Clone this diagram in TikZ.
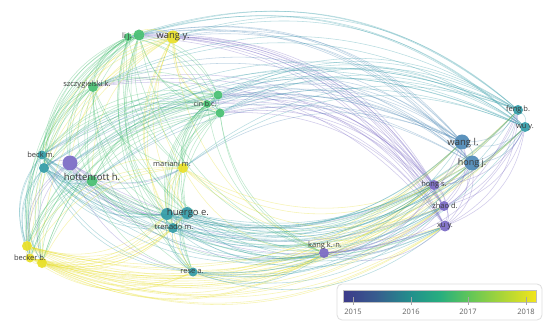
\documentclass[tikz,border=0pt]{standalone}
\usepackage{fontspec}
\setmainfont{Open Sans}
\definecolor{cyel}{HTML}{E8DF22}
\definecolor{cgrn}{HTML}{43BE6E}
\definecolor{cteal}{HTML}{2E9AA6}
\definecolor{cblue}{HTML}{4A87B5}
\definecolor{cpur}{HTML}{7766C4}
\definecolor{labc}{HTML}{3A3A3A}
\definecolor{legc}{HTML}{DDDDDD}
\definecolor{v0}{HTML}{3C3A8A}
\definecolor{v1}{HTML}{375B8E}
\definecolor{v2}{HTML}{22908C}
\definecolor{v3}{HTML}{27AE7F}
\definecolor{v4}{HTML}{5EC55A}
\definecolor{v5}{HTML}{A5D43A}
\definecolor{v6}{HTML}{F3E51B}
\pgfdeclarelayer{back}
\pgfdeclarelayer{edges}
\pgfsetlayers{back,edges,main}
\def\nodelist{lija/128/37/cgrn/4,lijb/139/35/cgrn/5.5,wangy/173/37/cyel/6.5,szcz/93/87/cgrn/5,cina/218/95/cgrn/4.5,cinb/207/104/cgrn/4,cinc/220/113/cgrn/4.5,becka/42/155/cteal/4.5,beckb/44/168/cteal/5,hottp/70/163/cpur/7.5,hottg/92/181/cgrn/5.5,mariani/183/168/cyel/5,beckera/27/246/cyel/5,beckerb/30/258/cyel/4.5,beckerc/42/263/cyel/5,huergoa/167/214/cteal/6,huergob/187/213/cteal/6,trenado/173/228/cteal/5,rese/193/272/cteal/4.5,kang/324/253/cpur/5,hongs/434/185/cpur/5,zhao/444/206/cpur/5,xuy/445/226/cpur/5.5,wangl/462/142/cblue/7.5,hongj/472/163/cblue/7.5,feng/518/110/cteal/5,wuy/525/127/cteal/5}
\begin{document}
\begin{tikzpicture}[x=1pt,y=1pt,
  nd/.style={circle,inner sep=0pt,fill opacity=0.9},
  edge/.style={line width=0.55pt,draw opacity=0.34},
  lab/.style={text=labc,inner sep=0pt,font=\fontsize{7.5}{8}\selectfont},
  big/.style={font=\fontsize{9.5}{10}\selectfont},
  yl/.style={text=labc!80,inner sep=0pt,font=\fontsize{7.5}{8}\selectfont}]
\begin{pgfonlayer}{back}
\fill[white] (0,0) rectangle (550,-329);
\end{pgfonlayer}
\useasboundingbox (0,0) rectangle (550,-329);
\foreach \n/\x/\y/\c/\r in \nodelist {
  \node[nd,fill=\c,minimum size={2*\r pt}] (\n) at (\x,-\y) {};
}
\begin{pgfonlayer}{edges}
\foreach \a/\xa/\ya/\ca/\ra [count=\i] in \nodelist {
  \foreach \b/\xb/\yb/\cb/\rb [count=\j] in \nodelist {
    \ifnum\j>\i
      \pgfmathsetmacro\pa{atan2(\ya-165,\xa-275)}
      \pgfmathsetmacro\pb{atan2(\yb-165,\xb-275)}
      \pgfmathsetmacro\dd{mod(\pb-\pa+540,360)-180}
      \ifdim\dd pt>0pt
        \draw[edge,draw=\cb] (\a) to[bend left=29] (\b);
      \else
        \draw[edge,draw=\ca] (\b) to[bend left=29] (\a);
      \fi
    \fi
  }
}
\end{pgfonlayer}
\node[lab] (tlij) at (127,-37) {li j.};
\node[lab,big] (twangy) at (173,-37) {wang y.};
\node[lab] (tszcz) at (87,-85) {szczygielski k.};
\node[lab,font=\fontsize{7}{8}\selectfont] (tcin) at (205,-104) {cin b.c.};
\node[lab] (tbeck) at (41,-155) {beck m.};
\node[lab,big] (thott) at (92,-177) {hottenrott h.};
\node[lab] (tmariani) at (172,-164) {mariani m.};
\node[lab] (tbecker) at (30,-258) {becker b.};
\node[lab,big] (thuergo) at (188,-213) {huergo e.};
\node[lab] (ttrenado) at (174,-227) {trenado m.};
\node[lab] (trese) at (192,-272) {rese a.};
\node[lab] (tkang) at (325,-246) {kang k.-n.};
\node[lab] (thongs) at (434,-185) {hong s.};
\node[lab] (tzhao) at (445,-206) {zhao d.};
\node[lab] (txuy) at (445,-226) {xu y.};
\node[lab,big] (twangl) at (463,-143) {wang l.};
\node[lab,font=\fontsize{9}{10}\selectfont] (thongj) at (472,-163) {hong j.};
\node[lab] (tfeng) at (518,-110) {feng b.};
\node[lab] (twuy) at (525,-127) {wu y.};
% legend
\node[draw=legc,line width=0.8pt,rounded corners=5pt,fill=white,minimum width=205pt,minimum height=36pt,inner sep=0pt] (legend) at (439.5,-302) {};
\shade[left color=v0,right color=v1] (343,-290) rectangle (375.2,-302);
\shade[left color=v1,right color=v2] (375,-290) rectangle (411.2,-302);
\shade[left color=v2,right color=v3] (411,-290) rectangle (440.2,-302);
\shade[left color=v3,right color=v4] (440,-290) rectangle (468.2,-302);
\shade[left color=v4,right color=v5] (468,-290) rectangle (500.2,-302);
\shade[left color=v5,right color=v6] (500,-290) rectangle (536,-302);
\draw[gray!50,line width=0.3pt] (343,-290) rectangle (536,-302);
\foreach \x/\t in {353/2015,411/2016,468/2017,526/2018} {
  \draw[gray!70,line width=0.5pt] (\x,-297) -- (\x,-305);
  \node[yl] (y\t) at (\x,-312) {\t};
}
\end{tikzpicture}
\end{document}
